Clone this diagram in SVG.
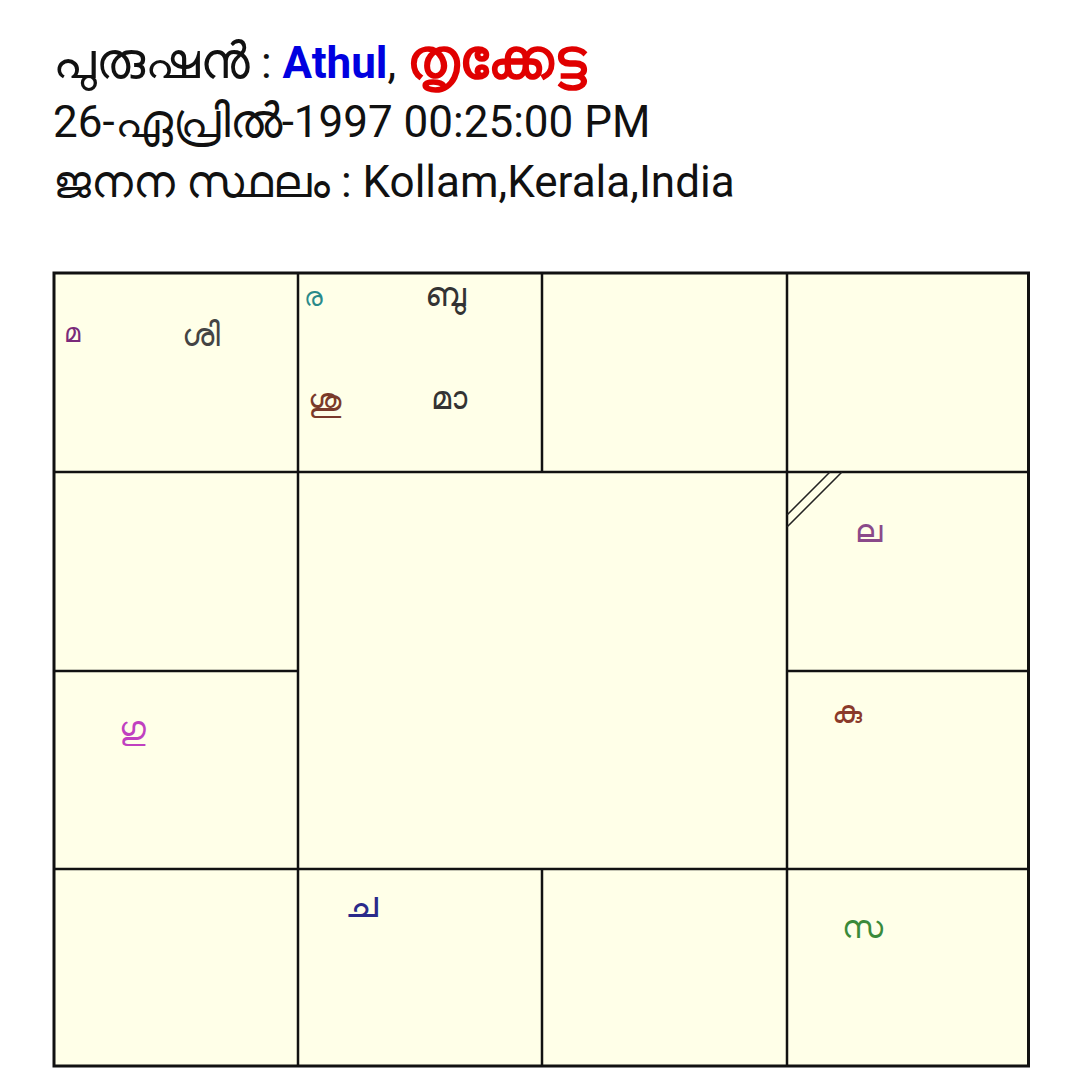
<svg xmlns="http://www.w3.org/2000/svg" width="1080" height="1090" viewBox="0 0 1080 1090">
<style>
.hd{font-family:Roboto,"Noto Sans","DejaVu Sans",sans-serif;font-size:44px;fill:#111}
.lb{font-family:"Noto Sans","DejaVu Sans",sans-serif;font-size:32px}
.sm{font-size:26px}
</style>
<rect width="1080" height="1090" fill="#fff"/>
<g id="header">
<text class="hd" x="53" y="78"><tspan font-size="50">പുരുഷൻ</tspan> : <tspan fill="#0000e0" font-weight="bold">Athul</tspan>, <tspan font-size="55" fill="#e00000" font-weight="bold">തൃക്കേട്ട</tspan></text>
<text class="hd" x="53" y="137">26-<tspan font-size="47">ഏപ്രിൽ</tspan>-1997 00:25:00 PM</text>
<text class="hd" x="53" y="197"><tspan font-size="44.5">ജനന സ്ഥലം</tspan> : Kollam,Kerala,India</text>
</g>
<g id="chart">
<rect x="54" y="273" width="974.5" height="793" fill="#FFFFE8" stroke="#111" stroke-width="3"/>
<g stroke="#111" stroke-width="2.5" fill="none">
<line x1="298" y1="273" x2="298" y2="1066"/>
<line x1="542" y1="273" x2="542" y2="472"/>
<line x1="542" y1="869" x2="542" y2="1066"/>
<line x1="787" y1="273" x2="787" y2="1066"/>
<line x1="54" y1="472" x2="1028" y2="472"/>
<line x1="54" y1="869" x2="1028" y2="869"/>
<line x1="54" y1="671" x2="298" y2="671"/>
<line x1="787" y1="671" x2="1028" y2="671"/>
</g>
</g>
<g id="lagna-mark" stroke="#222" stroke-width="1.5">
<line x1="830" y1="472" x2="787" y2="515"/>
<line x1="842" y1="472" x2="787" y2="527"/>
</g>
<g id="labels" class="lb">
<text id="n-ma" class="sm" x="64" y="342" fill="#7a2a7a">മ</text>
<text id="n-shi" x="182" y="346" fill="#444">ശി</text>
<text id="n-ra" class="sm" x="304" y="306" fill="#2a8a8a">ര</text>
<text id="n-bu" x="425" y="306" fill="#333" font-size="34">ബു</text>
<text id="n-shu" x="308" y="411" fill="#7a3a2a">ശു</text>
<text id="n-maa" x="431" y="409" fill="#333">മാ</text>
<text id="n-la" x="855" y="542" fill="#8a4a8a">ല</text>
<text id="n-gu" x="119" y="739" fill="#c040c0">ഗു</text>
<text id="n-ku" x="832" y="723" fill="#8a3a2a">കു</text>
<text id="n-cha" x="345" y="917" fill="#2a2a8a" font-size="38">ച</text>
<text id="n-sa" x="842" y="938" fill="#3a8a3a">സ</text>
</g>
</svg>
